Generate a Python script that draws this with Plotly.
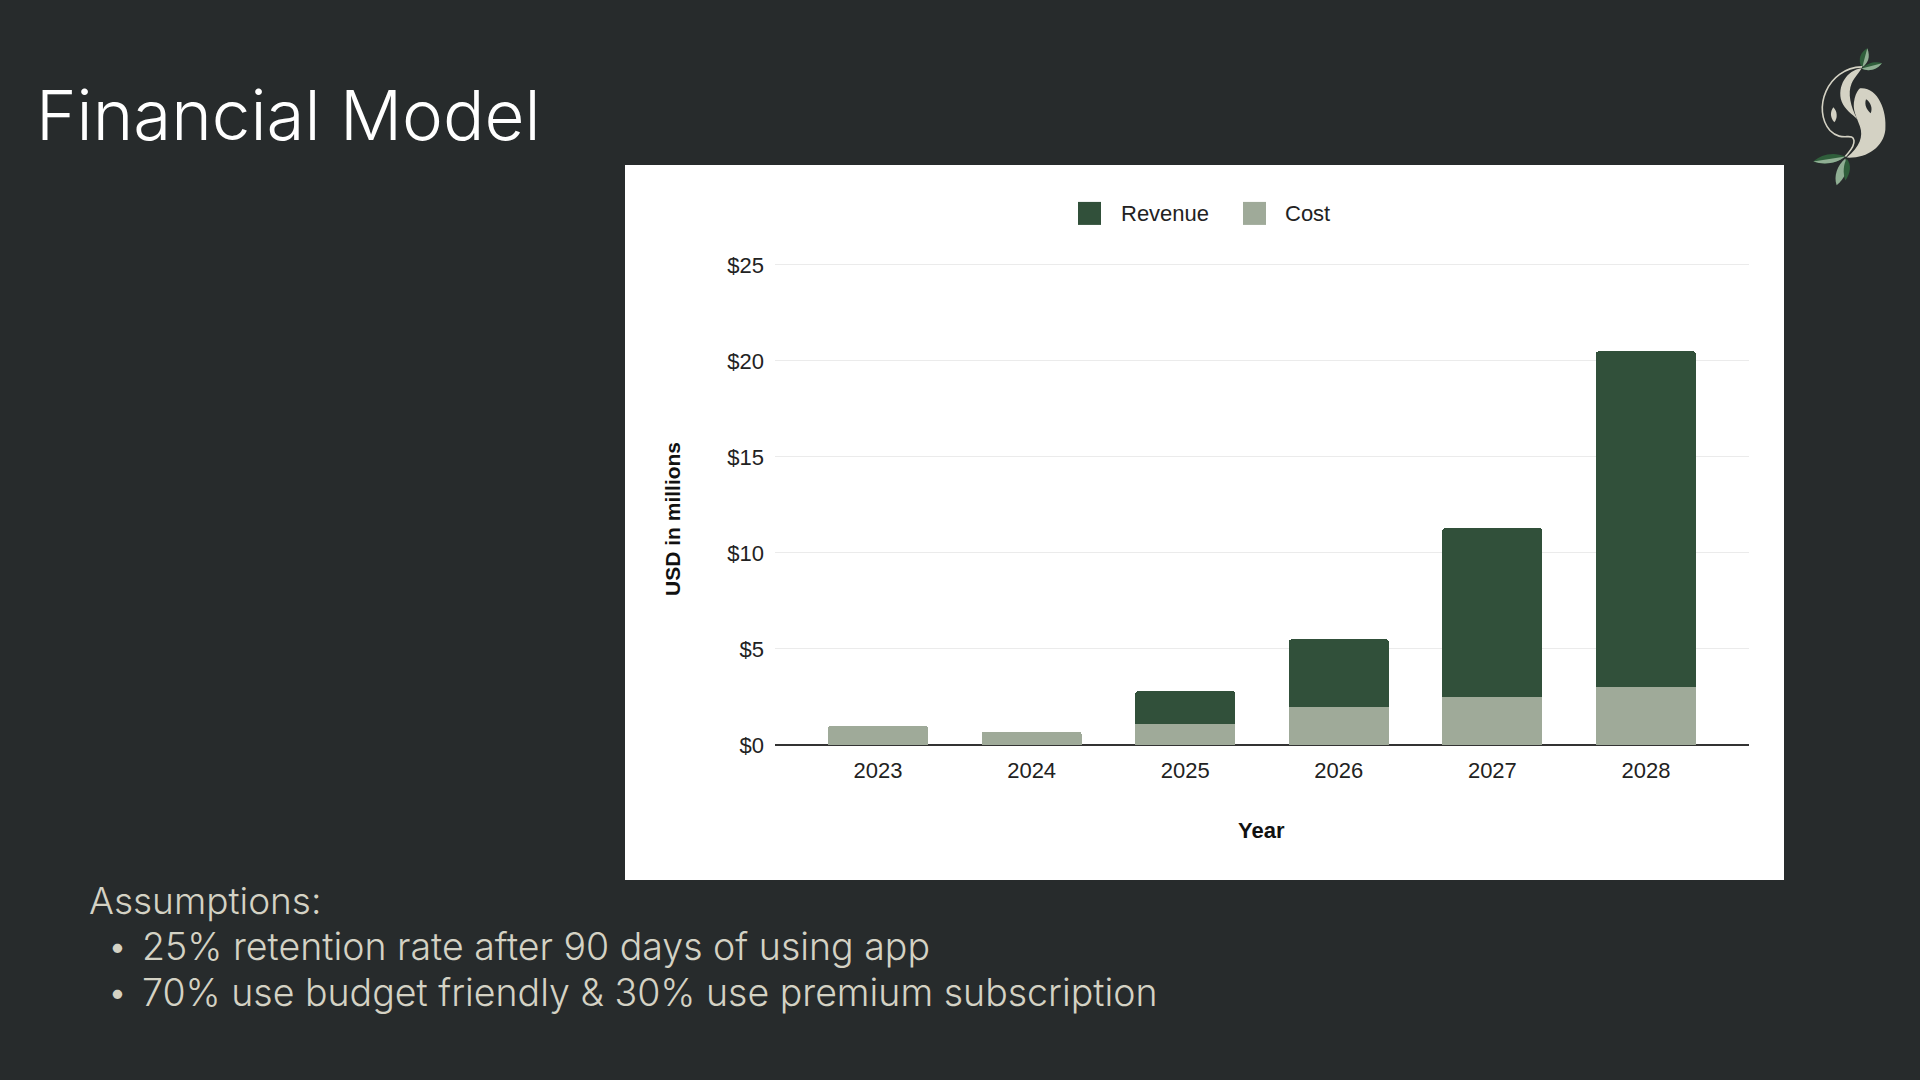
import plotly.graph_objects as go

# ---------------- data ----------------
years = ["2023", "2024", "2025", "2026", "2027", "2028"]
cost = [1.0, 0.7, 1.1, 2.0, 2.5, 3.0]
revenue = [0.0, 0.0, 1.7, 3.5, 8.8, 17.5]
y_ticks = [0, 5, 10, 15, 20, 25]
y_tick_labels = ["$0", "$5", "$10", "$15", "$20", "$25"]
series_names = ["Revenue", "Cost"]
title_text = "Financial Model"
assumption_head = "Assumptions:"
assumption_items = [
    "25% retention rate after 90 days of using app",
    "70% use budget friendly & 30% use premium subscription",
]

# ---------------- layout constants (pixels) ----------------
W, H = 1920, 1080
Y_TOP = 25.1
PL, PR, PB = 775, 1749, 745
PT = PB - 480 * Y_TOP / 25.0  # so that $25 sits at y=265

BG = "#272b2c"
REV = "#31503a"
COST = "#9faa99"
BEIGE = "#d4d2c4"
CHART_FONT = "Liberation Sans, Arial, sans-serif"
SLIDE_FONT = "Inter, Lato, sans-serif"


def px(x):
    return (x - PL) / (PR - PL)


def py(y):
    return (PB - y) / (PB - PT)


def path(cmds):
    out = []
    for op, pts in cmds:
        s = op
        for (dx, dy) in pts:
            X = 1780 + dx / 3.0
            Y = 30 + dy / 3.0
            s += f" {px(X):.5f},{py(Y):.5f}"
        out.append(s)
    return " ".join(out)


fig = go.Figure()

fig.add_trace(go.Bar(x=years, y=cost, name="Cost", marker=dict(color=COST, line=dict(width=0)),
                     showlegend=False, hoverinfo="skip"))
fig.add_trace(go.Bar(x=years, y=revenue, name="Revenue", marker=dict(color=REV, line=dict(width=0)),
                     showlegend=False, hoverinfo="skip"))

shapes = []
# white chart card
shapes.append(dict(type="rect", xref="paper", yref="paper", layer="below",
                   x0=px(625), x1=px(1784), y0=py(880), y1=py(165),
                   fillcolor="white", line=dict(width=0)))

# manual legend swatches
legend_pos = {"Revenue": (1078, 1119, REV), "Cost": (1243, 1283, COST)}
annotations = []
for nm in series_names:
    sx, tx, col = legend_pos[nm]
    shapes.append(dict(type="rect", xref="paper", yref="paper", layer="above",
                       x0=px(sx), x1=px(sx + 23), y0=py(225), y1=py(202),
                       fillcolor=col, line=dict(width=0)))
    annotations.append(dict(text=nm, xref="paper", yref="paper", x=px(tx), y=py(214),
                            xanchor="left", yanchor="middle", showarrow=False,
                            font=dict(family=CHART_FONT, size=22, color="#222222")))

# ---- logo (approximation) ----
DARKLEAF = "#2f5e3b"
LIGHTLEAF = "#8fae93"
logo = [
    (path([("M", [(245, 115)]), ("C", [(200, 120), (170, 170), (185, 215)]),
           ("C", [(195, 240), (215, 252), (232, 268)]),
           ("C", [(212, 230), (202, 190), (215, 160)]),
           ("C", [(225, 140), (240, 125), (245, 115)]), ("Z", [])]), BEIGE),
    (path([("M", [(240, 175)]), ("C", [(292, 170), (322, 240), (316, 300)]),
           ("C", [(310, 352), (260, 386), (200, 383)]),
           ("C", [(240, 350), (250, 320), (240, 290)]),
           ("C", [(230, 260), (215, 240), (224, 205)]),
           ("C", [(228, 190), (234, 180), (240, 175)]), ("Z", [])]), BEIGE),
    (path([("M", [(258, 208)]), ("C", [(271, 215), (279, 235), (272, 250)]),
           ("C", [(261, 241), (252, 225), (258, 208)]), ("Z", [])]), BG),
    (path([("M", [(160, 232)]), ("C", [(173, 245), (173, 265), (163, 277)]),
           ("C", [(150, 263), (150, 245), (160, 232)]), ("Z", [])]), BEIGE),
    (path([("M", [(245, 112)]), ("C", [(232, 88), (242, 66), (262, 55)]),
           ("C", [(270, 80), (263, 100), (245, 112)]), ("Z", [])]), DARKLEAF),
    (path([("M", [(247, 112)]), ("C", [(252, 90), (258, 70), (262, 55)]),
           ("C", [(272, 82), (264, 100), (247, 112)]), ("Z", [])]), LIGHTLEAF),
    (path([("M", [(245, 116)]), ("C", [(265, 96), (290, 94), (306, 100)]),
           ("C", [(290, 120), (265, 126), (245, 116)]), ("Z", [])]), DARKLEAF),
    (path([("M", [(245, 116)]), ("L", [(306, 100)]),
           ("C", [(290, 120), (265, 126), (245, 116)]), ("Z", [])]), LIGHTLEAF),
    (path([("M", [(196, 380)]), ("C", [(160, 364), (122, 374), (100, 395)]),
           ("C", [(132, 406), (170, 401), (196, 380)]), ("Z", [])]), DARKLEAF),
    (path([("M", [(196, 380)]), ("L", [(100, 395)]),
           ("C", [(132, 406), (170, 401), (196, 380)]), ("Z", [])]), LIGHTLEAF),
    (path([("M", [(196, 386)]), ("C", [(172, 406), (160, 440), (170, 466)]),
           ("C", [(196, 446), (206, 416), (196, 386)]), ("Z", [])]), LIGHTLEAF),
    (path([("M", [(200, 386)]), ("C", [(215, 405), (212, 430), (196, 452)]),
           ("C", [(188, 430), (190, 405), (200, 386)]), ("Z", [])]), DARKLEAF),
]
for d, fill in logo:
    shapes.append(dict(type="path", xref="paper", yref="paper", path=d,
                       fillcolor=fill, line=dict(width=0), layer="above"))
loop = path([("M", [(246, 111)]), ("C", [(140, 114), (96, 240), (150, 302)]),
             ("C", [(185, 338), (218, 305), (222, 332)]),
             ("C", [(224, 352), (206, 366), (196, 380)])])
shapes.append(dict(type="path", xref="paper", yref="paper", path=loop,
                   fillcolor="rgba(0,0,0,0)", line=dict(color=BEIGE, width=1.6), layer="above"))

annotations += [
    dict(text=title_text, xref="paper", yref="paper", x=px(34), y=py(115),
         xanchor="left", yanchor="middle", showarrow=False,
         font=dict(family=SLIDE_FONT, size=69, color="white", weight=300)),
    dict(text="USD in millions", xref="paper", yref="paper", x=px(673), y=py(519),
         xanchor="center", yanchor="middle", textangle=-90, showarrow=False,
         font=dict(family=CHART_FONT, size=21, color="#111111", weight="bold")),
    dict(text="Year", xref="paper", yref="paper", x=px(1261), y=py(830),
         xanchor="center", yanchor="middle", showarrow=False,
         font=dict(family=CHART_FONT, size=22, color="#111111", weight="bold")),
    dict(text=assumption_head, xref="paper", yref="paper", x=px(87), y=py(900),
         xanchor="left", yanchor="middle", showarrow=False,
         font=dict(family=SLIDE_FONT, size=37, color=BEIGE, weight=300)),
]
for i, item in enumerate(assumption_items):
    yy = 946 + 46 * i
    annotations.append(dict(text="•", xref="paper", yref="paper", x=px(107), y=py(yy),
                            xanchor="left", yanchor="middle", showarrow=False,
                            font=dict(family=SLIDE_FONT, size=30, color=BEIGE)))
    annotations.append(dict(text=item, xref="paper", yref="paper", x=px(140), y=py(yy),
                            xanchor="left", yanchor="middle", showarrow=False,
                            font=dict(family=SLIDE_FONT, size=37.5, color=BEIGE, weight=300)))

fig.update_layout(
    width=W, height=H,
    margin=dict(l=PL, r=W - PR, t=PT, b=H - PB, pad=0),
    paper_bgcolor=BG, plot_bgcolor="white",
    barmode="stack", bargap=0.349, barcornerradius=3,
    showlegend=False,
    xaxis=dict(type="category", range=[-0.671, 5.671], showgrid=False, showline=False,
               zeroline=False, ticks="", ticklabelstandoff=10,
               tickfont=dict(family=CHART_FONT, size=22, color="#222222"), fixedrange=True),
    yaxis=dict(range=[0, Y_TOP], tickvals=y_ticks, ticktext=y_tick_labels, showgrid=True,
               gridcolor="#ebebeb", gridwidth=1, zeroline=True, zerolinecolor="#333333",
               zerolinewidth=2, showline=False, ticks="", ticklabelstandoff=10,
               tickfont=dict(family=CHART_FONT, size=22, color="#222222"), fixedrange=True),
    shapes=shapes,
    annotations=annotations,
)

fig.write_html("out.html")
